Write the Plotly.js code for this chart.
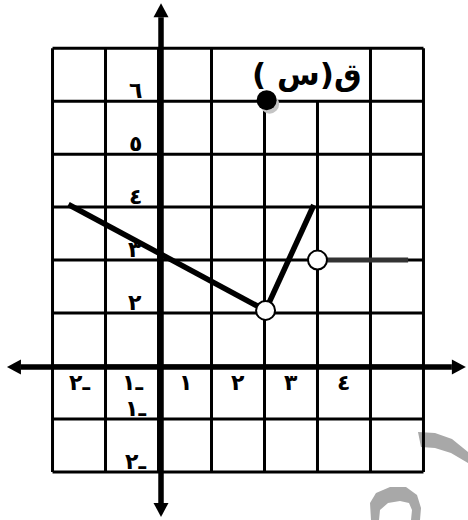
<!DOCTYPE html>
<html>
<head>
<meta charset="utf-8">
<script src="https://cdn.plot.ly/plotly-3.0.1.min.js"></script>
<style>
  html, body { margin: 0; padding: 0; background: #ffffff; }
  #chart { width: 468px; height: 520px; }
</style>
</head>
<body>
<div id="chart"></div>
<script>
// ---- data ----
var gridX = [-2, -1, 0, 1, 2, 3, 4, 5];
var gridY = [-2, -1, 0, 1, 2, 3, 4, 5, 6];

// tick labels (as printed in the worksheet)
var xTickValues = [-2, -1, 1, 2, 3, 4];
var xTickText = ['\u202D٢ـ\u202C', '\u202D١ـ\u202C', '١', '٢', '٣', '٤'];
var yTickValues = [6, 5, 4, 3, 2, -1, -2];
var yTickText = ['٦', '٥', '٤', '٣', '٢', '\u202D١ـ\u202C', '\u202D٢ـ\u202C'];

// function pieces
var segAX = [-1.70, 2.02], segAY = [3.05, 1.05];
var segBX = [2.02, 2.93],  segBY = [1.05, 3.04];
var segCX = [3.00, 4.71],  segCY = [2.00, 2.00];
var openX = [2.02, 3.00],  openY = [1.05, 2.00];
var closedX = [2.04],      closedY = [5.02];

var funcLabel = '\u202Bق(س )\u202C';
var labelX = 2.80, labelY = 5.50;

// axis extents (arrow tips)
var axisXExtent = [-2.86, 5.80];
var axisYExtent = [-2.85, 6.85];

// faint watermark outline (pixel coordinates of the page)
var wmUpper = [[418,432],[435,433],[452,439],[468,452],[468,463],[451,453],[435,448],[421,447]];
var wmLower = [[371,520],[370,503],[376,493],[390,487],[406,487],[417,495],[421,508],[420,520],
               [411,520],[412,510],[409,503],[400,501],[388,503],[380,510],[379,520]];

// ---- layout helpers ----
var W = 468, H = 520;
var xRange = [-2.991, 5.840];
var yRange = [-2.908, 6.911];
var ux = (xRange[1] - xRange[0]) / W;   // data units per px
var uy = (yRange[1] - yRange[0]) / H;

var shapes = [];
var gridW = 3, axisW = 5.5;
var gxMin = Math.min.apply(null, gridX), gxMax = Math.max.apply(null, gridX);
var gyMin = Math.min.apply(null, gridY), gyMax = Math.max.apply(null, gridY);

// vertical grid lines (the label sits in the top row over x in [2,3])
gridX.forEach(function (x) {
  var top = (x >= 2 && x <= 3) ? gyMax - 1 : gyMax;
  shapes.push({type: 'line', xref: 'x', yref: 'y', x0: x, x1: x, y0: gyMin, y1: top,
               line: {color: '#000', width: gridW}, layer: 'below'});
});
gridY.forEach(function (y) {
  shapes.push({type: 'line', xref: 'x', yref: 'y', x0: gxMin, x1: gxMax, y0: y, y1: y,
               line: {color: '#000', width: gridW}, layer: 'below'});
});

// axes with arrowheads
var aLenX = 14 * ux, aLenY = 14 * uy, aHalfX = 7.5 * ux, aHalfY = 7.5 * uy;
var yAxisX = 2.5 * ux; // axis drawn slightly right of x = 0
var xAxisY = -1 * uy;
shapes.push({type: 'line', xref: 'x', yref: 'y', x0: axisXExtent[0] + aLenX, x1: axisXExtent[1] - aLenX,
             y0: xAxisY, y1: xAxisY, line: {color: '#000', width: axisW}});
shapes.push({type: 'line', xref: 'x', yref: 'y', x0: yAxisX, x1: yAxisX,
             y0: axisYExtent[0] + aLenY, y1: axisYExtent[1] - aLenY, line: {color: '#000', width: axisW}});
function tri(p1, p2, p3) {
  return 'M' + p1[0] + ',' + p1[1] + ' L' + p2[0] + ',' + p2[1] + ' L' + p3[0] + ',' + p3[1] + ' Z';
}
var heads = [
  tri([axisXExtent[0], xAxisY], [axisXExtent[0] + aLenX, xAxisY + aHalfY], [axisXExtent[0] + aLenX, xAxisY - aHalfY]),
  tri([axisXExtent[1], xAxisY], [axisXExtent[1] - aLenX, xAxisY + aHalfY], [axisXExtent[1] - aLenX, xAxisY - aHalfY]),
  tri([yAxisX, axisYExtent[1]], [yAxisX - aHalfX, axisYExtent[1] - aLenY], [yAxisX + aHalfX, axisYExtent[1] - aLenY]),
  tri([yAxisX, axisYExtent[0]], [yAxisX - aHalfX, axisYExtent[0] + aLenY], [yAxisX + aHalfX, axisYExtent[0] + aLenY])
];
heads.forEach(function (p) {
  shapes.push({type: 'path', xref: 'x', yref: 'y', path: p, fillcolor: '#000', line: {width: 0}});
});

// watermark
function wmPath(pts) {
  return pts.map(function (p, i) {
    return (i ? 'L' : 'M') + (p[0] / W) + ',' + (1 - p[1] / H);
  }).join(' ') + ' Z';
}
[wmUpper, wmLower].forEach(function (pts) {
  shapes.push({type: 'path', xref: 'paper', yref: 'paper', path: wmPath(pts),
               fillcolor: '#a8a8a8', line: {width: 0}, layer: 'below'});
});

// ---- annotations ----
var annotations = [];
var tickFont = {family: 'DejaVu Sans', size: 22, color: '#000', weight: 'bold'};
xTickValues.forEach(function (v, i) {
  annotations.push({x: v < 0 ? v + 0.5 : v - 0.5, y: -0.32, xref: 'x', yref: 'y',
                    text: xTickText[i], showarrow: false, font: tickFont,
                    xanchor: 'center', yanchor: 'middle'});
});
yTickValues.forEach(function (v, i) {
  annotations.push({x: -0.44, y: v > 0 ? v - 1 : v, xref: 'x', yref: 'y',
                    text: yTickText[i], showarrow: false, font: tickFont,
                    xanchor: 'center', yanchor: 'bottom', borderpad: 0, yshift: -3});
});
annotations.push({x: labelX, y: labelY, xref: 'x', yref: 'y', text: funcLabel, showarrow: false,
                  font: {family: 'DejaVu Sans', size: 31, color: '#000', weight: 'bold'},
                  xanchor: 'center', yanchor: 'middle'});

// ---- traces ----
var lineStyle = {color: '#000', width: 5.5};
var traces = [
  {x: segAX, y: segAY, mode: 'lines', line: lineStyle},
  {x: segBX, y: segBY, mode: 'lines', line: lineStyle},
  {x: segCX, y: segCY, mode: 'lines', line: {color: '#333', width: 5}},
  {x: closedX.map(function (v) { return v + 3 * ux; }), y: closedY.map(function (v) { return v - 4 * uy; }),
   mode: 'markers', marker: {size: 19, color: '#c4c4c4', line: {width: 0}}},
  {x: closedX, y: closedY, mode: 'markers', marker: {size: 20, color: '#000', line: {width: 0}}},
  {x: openX, y: openY, mode: 'markers', marker: {size: 19, color: '#fff', line: {color: '#000', width: 2}}}
];

var layout = {
  width: W, height: H,
  margin: {l: 0, r: 0, t: 0, b: 0, pad: 0},
  paper_bgcolor: '#fff', plot_bgcolor: '#fff',
  showlegend: false,
  xaxis: {range: xRange, visible: false, fixedrange: true},
  yaxis: {range: yRange, visible: false, fixedrange: true},
  shapes: shapes,
  annotations: annotations
};

Plotly.newPlot('chart', traces, layout, {displayModeBar: false, staticPlot: true});
</script>
</body>
</html>
